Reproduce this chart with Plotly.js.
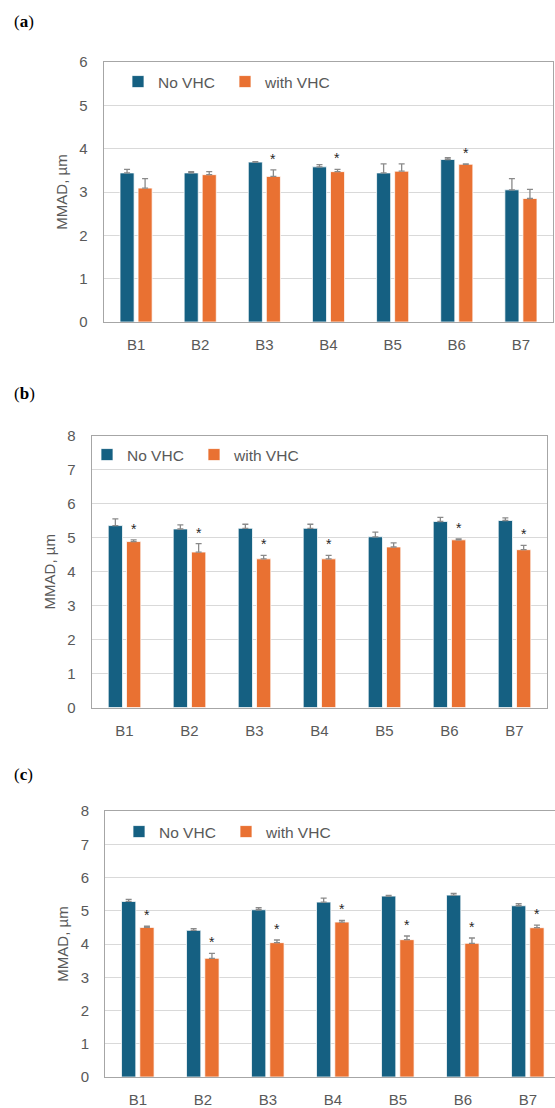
<!DOCTYPE html>
<html>
<head>
<meta charset="utf-8">
<script src="https://cdn.plot.ly/plotly-3.0.1.min.js"></script>
<style>html,body{margin:0;padding:0;background:#fff;}#chart{width:555px;height:1108px;}</style>
</head>
<body>
<div id="chart"></div>
<script>
// ---------- data ----------
const categories = ['B1','B2','B3','B4','B5','B6','B7'];
const seriesNames = ['No VHC','with VHC'];

// panel (a)
const a_noVHC      = [3.44, 3.44, 3.69, 3.58, 3.44, 3.75, 3.05];
const a_noVHC_err  = [0.08, 0.03, 0.01, 0.05, 0.21, 0.04, 0.26];
const a_withVHC    = [3.09, 3.40, 3.36, 3.47, 3.48, 3.64, 2.85];
const a_withVHC_err= [0.22, 0.07, 0.15, 0.05, 0.17, 0.01, 0.21];
const a_sig        = [false, false, true, true, false, true, false];

// panel (b)
const b_noVHC      = [5.36, 5.26, 5.28, 5.28, 5.03, 5.48, 5.51];
const b_noVHC_err  = [0.20, 0.12, 0.12, 0.12, 0.14, 0.12, 0.08];
const b_withVHC    = [4.89, 4.58, 4.38, 4.38, 4.73, 4.94, 4.65];
const b_withVHC_err= [0.05, 0.25, 0.10, 0.10, 0.12, 0.03, 0.13];
const b_sig        = [true, true, true, true, false, true, true];

// panel (c)
const c_noVHC      = [5.28, 4.41, 5.03, 5.26, 5.44, 5.47, 5.15];
const c_noVHC_err  = [0.06, 0.05, 0.06, 0.12, 0.02, 0.05, 0.06];
const c_withVHC    = [4.50, 3.57, 4.04, 4.66, 4.13, 4.02, 4.49];
const c_withVHC_err= [0.04, 0.15, 0.08, 0.05, 0.11, 0.16, 0.08];
const c_sig        = [true, true, true, true, true, true, true];

const panelLabels = ['a','b','c'];
const yTitle = 'MMAD, µm';

// ---------- styles ----------
const BLUE = '#156082', ORANGE = '#E97132';
const FONT = 'Liberation Sans, Arial, sans-serif';
const TXT = '#595959';
const W = 555, H = 1108;

// pixel boxes for the three plots (left, right, top, bottom)
const boxes = [
  {l:104, r:553, t:62,  b:322, ymax:6, legendX:118, legendY:82},
  {l:92,  r:547, t:436, b:707.5, ymax:8, legendX:87, legendY:455},
  {l:105.3, r:555, t:811, b:1077, ymax:8, legendX:119, legendY:832, catW:65}
];
const labelY = [22, 394, 774];

const panels = [
  {no:a_noVHC, noErr:a_noVHC_err, w:a_withVHC, wErr:a_withVHC_err, sig:a_sig},
  {no:b_noVHC, noErr:b_noVHC_err, w:b_withVHC, wErr:b_withVHC_err, sig:b_sig},
  {no:c_noVHC, noErr:c_noVHC_err, w:c_withVHC, wErr:c_withVHC_err, sig:c_sig}
];

const traces = [];
const layout = {
  width: W, height: H,
  margin: {l:0, r:0, t:0, b:0},
  paper_bgcolor: '#fff', plot_bgcolor: '#fff',
  barmode: 'group', bargap: 0.4375, bargroupgap: 0.22,
  font: {family: FONT, color: TXT, size: 15},
  showlegend: true,
  annotations: [],
};

const zeros = categories.map(() => 0);
const ORANGE_OFFSET = 0.14;

panels.forEach((p, i) => {
  const n = i + 1;
  const xa = n === 1 ? 'x' : 'x' + n;
  const ya = n === 1 ? 'y' : 'y' + n;
  const leg = n === 1 ? 'legend' : 'legend' + n;
  const bx = boxes[i];
  const errStyle = {type:'data', symmetric:false, arrayminus: zeros, color:'#8a8a8a', thickness:1.3, width:3};
  traces.push({
    type:'bar', x:categories, y:p.no, name:seriesNames[0], xaxis:xa, yaxis:ya, legend:leg,
    marker:{color:BLUE, line:{color:'rgba(255,255,255,0.75)', width:1}},
    error_y: Object.assign({array:p.noErr}, errStyle), hoverinfo:'y'
  });
  traces.push({
    type:'bar', x:categories, y:p.w, name:seriesNames[1], xaxis:xa, yaxis:ya, legend:leg,
    marker:{color:ORANGE, line:{color:'rgba(255,255,255,0.75)', width:1}},
    error_y: Object.assign({array:p.wErr}, errStyle), hoverinfo:'y'
  });

  const catW = bx.catW || (bx.r - bx.l) / categories.length;
  const xmax = -0.5 + (bx.r - bx.l) / catW;
  const xKey = n === 1 ? 'xaxis' : 'xaxis' + n;
  const yKey = n === 1 ? 'yaxis' : 'yaxis' + n;
  layout[xKey] = {
    domain:[bx.l / W, bx.r / W], anchor: ya, type:'category',
    range:[-0.5, xmax], showgrid:false, zeroline:false,
    showline:true, linecolor:'#a6a6a6', linewidth:1.3, mirror: true,
    ticks:'', ticklabelstandoff: 9,
    tickfont:{family:FONT, size:15, color:TXT}, fixedrange:true
  };
  layout[yKey] = {
    domain:[1 - bx.b / H, 1 - bx.t / H], anchor: xa,
    range:[0, bx.ymax], dtick:1, tick0:0,
    showgrid:true, gridcolor:'#d9d9d9', gridwidth:1, zeroline:false,
    showline:true, linecolor:'#a6a6a6', linewidth:1.3, mirror: n === 3 ? false : true,
    ticks:'', ticklabelstandoff: 12,
    tickfont:{family:FONT, size:15, color:TXT},
    title:{text:yTitle, font:{family:FONT, size:15, color:TXT}, standoff: 8},
    fixedrange:true
  };
  layout[leg] = {
    orientation:'h', x: bx.legendX / W, y: 1 - bx.legendY / H,
    xanchor:'left', yanchor:'middle', xref:'paper', yref:'paper',
    bgcolor:'rgba(0,0,0,0)', font:{family:FONT, size:15.5, color:TXT},
    itemwidth:30, entrywidth: 62, tracegroupgap:0
  };

  // significance stars over the "with VHC" bars
  p.sig.forEach((s, k) => {
    if (!s) return;
    layout.annotations.push({
      xref: xa, yref: ya, x: k + ORANGE_OFFSET, y: p.w[k] + p.wErr[k],
      text:'*', showarrow:false, yanchor:'bottom', yshift: 1,
      font:{family:FONT, size:14, color:'#262626'}
    });
  });

  // panel label
  layout.annotations.push({
    xref:'paper', yref:'paper', x: 12 / W, y: 1 - labelY[i] / H,
    xanchor:'left', yanchor:'middle', showarrow:false,
    text:'(<b>' + panelLabels[i] + '</b>)',
    font:{family:'Liberation Serif, DejaVu Serif, serif', size:17, color:'#000'}
  });
});

Plotly.newPlot('chart', traces, layout, {displayModeBar:false, staticPlot:true});
</script>
</body>
</html>
